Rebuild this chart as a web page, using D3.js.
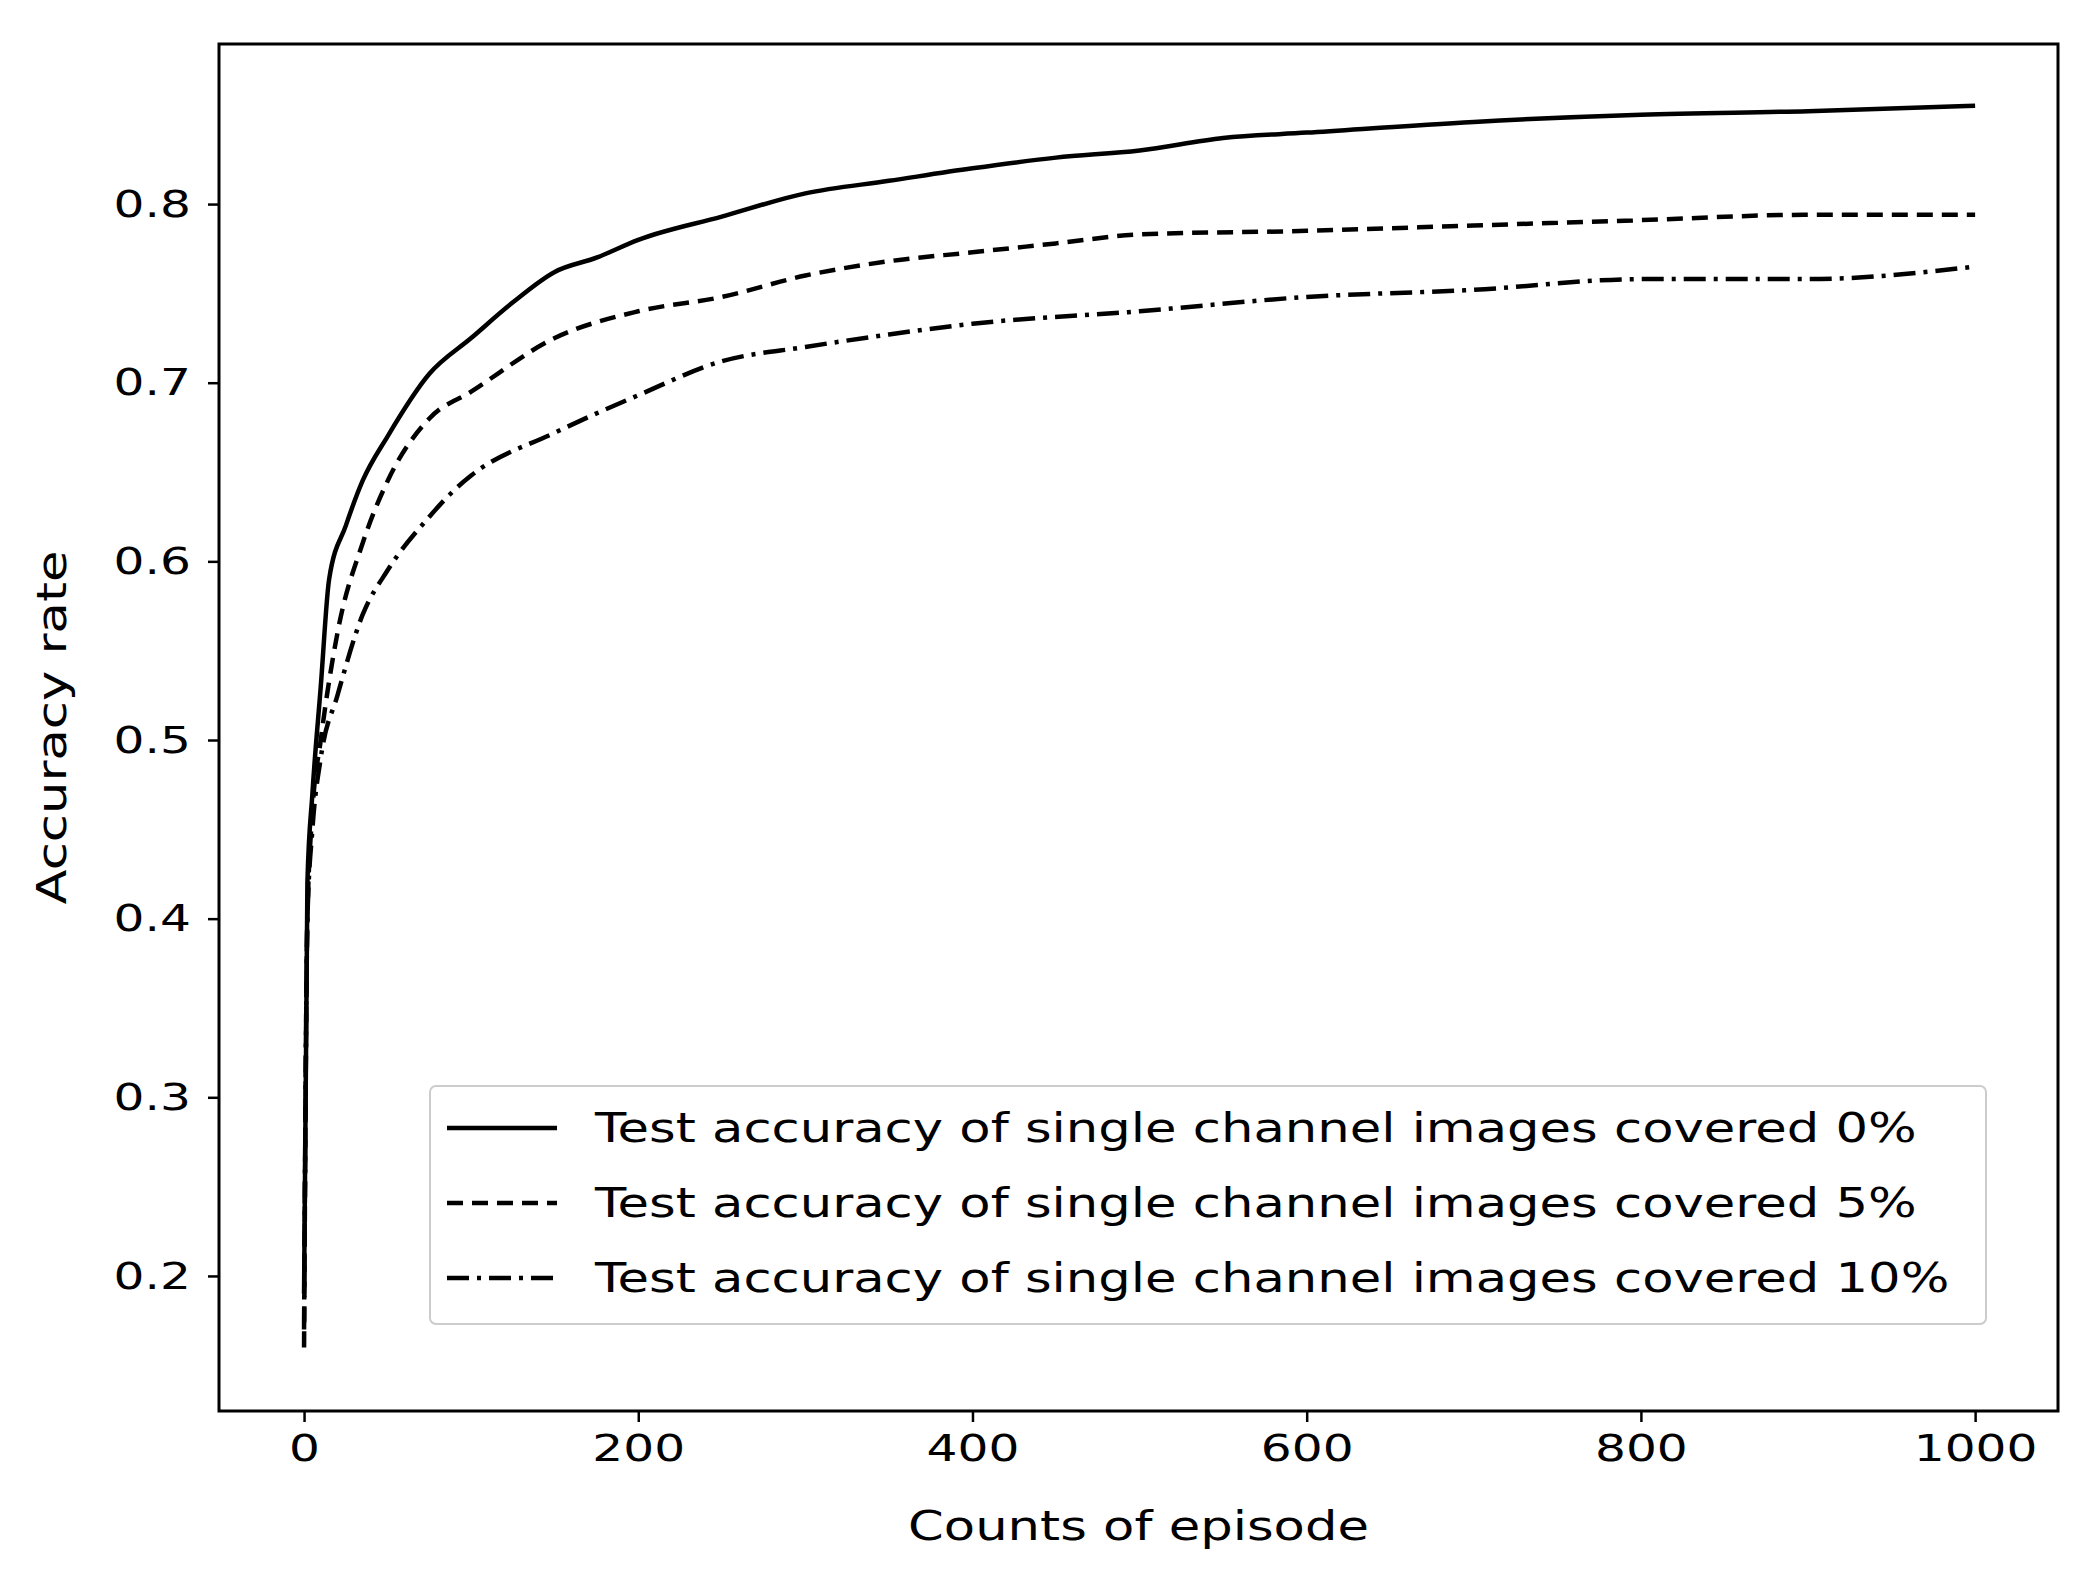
<!DOCTYPE html>
<html><head><meta charset="utf-8">
<script src="https://cdn.jsdelivr.net/npm/d3@7"></script>
<style>body{margin:0;background:#fff}</style>
</head><body>
<svg id="c" width="2096" height="1570"></svg>
<script>
// episode counts and accuracy for each coverage level
var epsA = [0, 2, 5, 10, 15, 25, 35, 50, 75, 100, 125, 150, 175, 200, 250, 300, 350, 400, 450, 500, 550, 600, 700, 800, 900, 1000];
var acc0 = [0.19, 0.42, 0.47, 0.53, 0.59, 0.62, 0.645, 0.67, 0.705, 0.725, 0.745, 0.762, 0.77, 0.78, 0.793, 0.806, 0.813, 0.82, 0.826, 0.83, 0.837, 0.84, 0.846, 0.85, 0.852, 0.855];
var epsB = [0, 2, 5, 10, 20, 35, 50, 75, 100, 150, 200, 250, 300, 350, 400, 450, 500, 600, 700, 800, 900, 1000];
var acc5 = [0.16, 0.40, 0.46, 0.50, 0.56, 0.61, 0.645, 0.68, 0.695, 0.725, 0.74, 0.748, 0.76, 0.768, 0.773, 0.778, 0.783, 0.785, 0.788, 0.791, 0.794, 0.794];
var epsC = [0, 2, 5, 10, 20, 35, 50, 75, 90, 100, 150, 200, 250, 300, 350, 400, 500, 600, 700, 800, 900, 1000];
var acc10 = [0.17, 0.40, 0.45, 0.49, 0.525, 0.57, 0.595, 0.625, 0.64, 0.648, 0.672, 0.693, 0.712, 0.72, 0.727, 0.733, 0.74, 0.748, 0.752, 0.758, 0.758, 0.765];
var labels = ["Test accuracy of single channel images covered 0%",
              "Test accuracy of single channel images covered 5%",
              "Test accuracy of single channel images covered 10%"];
var xTicks = [0, 200, 400, 600, 800, 1000];
var yTicks = [0.2, 0.3, 0.4, 0.5, 0.6, 0.7, 0.8];

var series = [
  {x: epsA, y: acc0, dash: null, label: labels[0]},
  {x: epsB, y: acc5, dash: "16,9", label: labels[1]},
  {x: epsC, y: acc10, dash: "22,8,4,8", label: labels[2]}
];

var L = 219, R = 2058, T = 44, B = 1411;
var SX = 1.28; // the source picture is stretched sideways
var svg = d3.select("#c").style("font-family", "DejaVu Sans");
var x = d3.scaleLinear().domain([-50.9, 1049.6]).range([L, R]);
var y = d3.scaleLinear().domain([0.1244, 0.8896]).range([B, T]);

var line = d3.line().x(function(d){ return x(d[0]); }).y(function(d){ return y(d[1]); }).curve(d3.curveMonotoneX);

series.forEach(function(s){
  svg.append("path")
    .datum(d3.zip(s.x, s.y))
    .attr("d", line)
    .attr("fill", "none").attr("stroke", "#000").attr("stroke-width", 4.5)
    .attr("stroke-dasharray", s.dash);
});

svg.append("rect").attr("x", L).attr("y", T).attr("width", R - L).attr("height", B - T)
  .attr("fill", "none").attr("stroke", "#000").attr("stroke-width", 3);

var xa = svg.append("g").attr("transform", "translate(0," + B + ")")
  .call(d3.axisBottom(x).tickValues(xTicks).tickSize(11).tickPadding(12).tickFormat(d3.format("d")));
var ya = svg.append("g").attr("transform", "translate(" + L + ",0)")
  .call(d3.axisLeft(y).tickValues(yTicks).tickSize(11).tickPadding(11).tickFormat(d3.format(".1f")));
[xa, ya].forEach(function(a){
  a.select(".domain").remove();
  a.selectAll("line").attr("stroke", "#000").attr("stroke-width", 2.5);
  a.selectAll("text").attr("font-size", 38).attr("font-family", "DejaVu Sans").attr("fill", "#000")
    .attr("transform", "scale(" + SX + ",1)");
});

svg.append("text").attr("transform", "translate(" + ((L + R) / 2) + ",1540) scale(" + SX + ",1)")
  .attr("text-anchor", "middle").attr("font-size", 40).text("Counts of episode");
svg.append("text").attr("transform", "translate(66," + ((T + B) / 2) + ") rotate(-90) scale(" + SX + ",1)")
  .attr("text-anchor", "middle").attr("font-size", 40).text("Accuracy rate");

// legend
var lg = svg.append("g").attr("transform", "translate(430,1086)");
lg.append("rect").attr("width", 1556).attr("height", 238).attr("rx", 6)
  .attr("fill", "#fff").attr("stroke", "#ccc").attr("stroke-width", 2);
series.forEach(function(s, i){
  var yy = 42 + i * 75;
  lg.append("line").attr("x1", 17).attr("x2", 127).attr("y1", yy).attr("y2", yy)
    .attr("stroke", "#000").attr("stroke-width", 4.5).attr("stroke-dasharray", s.dash);
  lg.append("text").attr("transform", "translate(165," + (yy + 14) + ") scale(" + SX + ",1)")
    .attr("font-size", 40).text(s.label);
});
</script>
</body></html>
